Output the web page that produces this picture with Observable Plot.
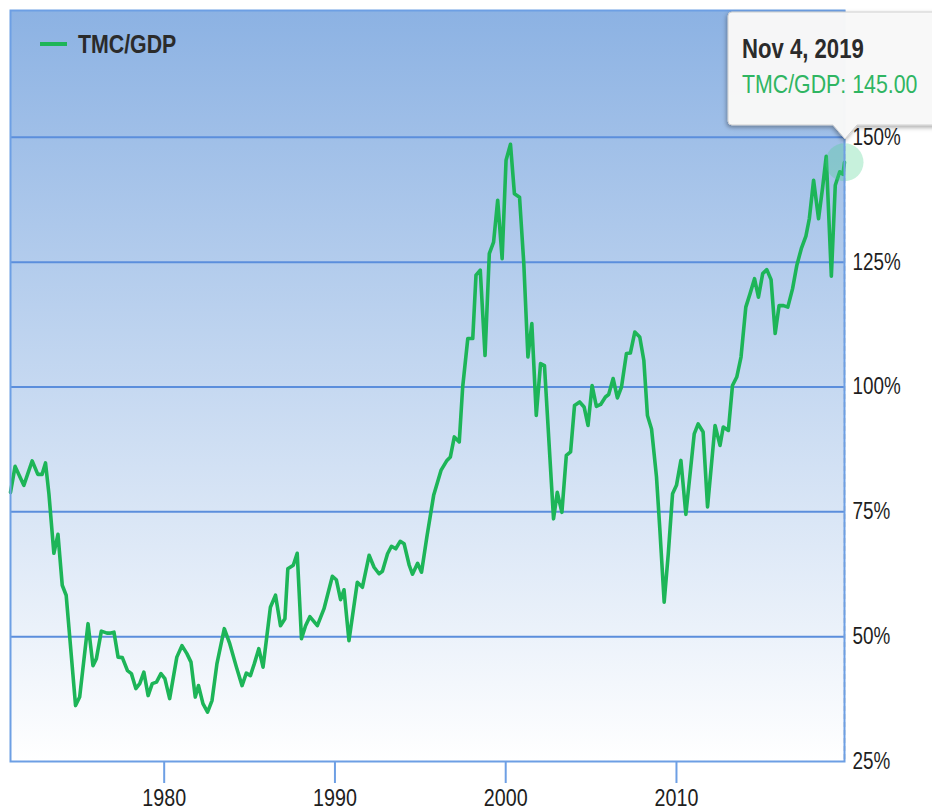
<!DOCTYPE html>
<html>
<head>
<meta charset="utf-8">
<script src="https://cdn.jsdelivr.net/npm/d3@7"></script>
<script src="https://cdn.jsdelivr.net/npm/@observablehq/plot@0.6"></script>
<style>
html, body { margin: 0; padding: 0; background: #ffffff; overflow: hidden; }
#wrap { position: relative; width: 932px; height: 810px; }
</style>
</head>
<body>
<div id="wrap"></div>
<script>
// ---- data ----
const seriesName = "TMC/GDP";
const years = [
  1971.0, 1971.27, 1971.78, 1972.27, 1972.6, 1972.85, 1973.05, 1973.25, 1973.54, 1973.78,
  1974.03, 1974.26, 1974.81, 1975.05, 1975.54, 1975.83, 1976.03, 1976.32, 1976.65, 1976.81,
  1977.06, 1977.30, 1977.55, 1977.85, 1978.08, 1978.34, 1978.57, 1978.81, 1979.06, 1979.30,
  1979.55, 1979.81, 1980.04, 1980.32, 1980.74, 1981.04, 1981.33, 1981.57, 1981.82, 1982.01,
  1982.27, 1982.54, 1982.80, 1983.09, 1983.52, 1983.84, 1984.23, 1984.56, 1984.81, 1985.05,
  1985.28, 1985.54, 1985.79, 1986.22, 1986.52, 1986.81, 1987.07, 1987.24, 1987.56, 1987.79,
  1988.04, 1988.28, 1988.53, 1988.97, 1989.36, 1989.85, 1990.08, 1990.33, 1990.53, 1990.82,
  1991.31, 1991.61, 1992.0, 1992.29, 1992.58, 1992.78, 1993.08, 1993.31, 1993.56, 1993.82,
  1994.05, 1994.35, 1994.54, 1994.84, 1995.07, 1995.38, 1995.78, 1996.21, 1996.56, 1996.76,
  1996.99, 1997.28, 1997.48, 1997.78, 1998.07, 1998.26, 1998.51, 1998.79, 1999.04, 1999.29,
  1999.53, 1999.79, 2000.02, 2000.28, 2000.51, 2000.81, 2001.06, 2001.30, 2001.53, 2001.79,
  2002.04, 2002.27, 2002.80, 2003.02, 2003.29, 2003.55, 2003.80, 2004.03, 2004.33, 2004.59,
  2004.82, 2005.06, 2005.31, 2005.56, 2005.84, 2006.03, 2006.29, 2006.54, 2006.78, 2007.07,
  2007.30, 2007.56, 2007.85, 2008.09, 2008.30, 2008.54, 2008.83, 2009.03, 2009.28, 2009.52,
  2009.77, 2010.0, 2010.26, 2010.55, 2011.04, 2011.27, 2011.56, 2011.82, 2012.26, 2012.55,
  2012.74, 2013.04, 2013.28, 2013.53, 2013.78, 2014.06, 2014.31, 2014.57, 2014.80, 2015.05,
  2015.29, 2015.54, 2015.78, 2016.01, 2016.27, 2016.52, 2016.80, 2017.05, 2017.31, 2017.58,
  2017.78, 2018.03, 2018.32, 2018.56, 2018.77, 2019.07, 2019.30, 2019.56, 2019.75, 2019.84
];
const values = [
  78.9, 84.1, 80.3, 85.2, 82.5, 82.5, 84.8, 78.6, 66.7, 70.5,
  60.3, 58.3, 36.2, 37.9, 52.6, 44.2, 45.6, 51.1, 50.7, 50.7,
  50.9, 45.9, 45.8, 43.2, 42.6, 39.6, 40.6, 42.9, 38.2, 40.6,
  40.9, 42.6, 41.6, 37.6, 45.9, 48.2, 46.6, 44.9, 37.9, 40.2,
  36.6, 34.9, 37.2, 44.6, 51.6, 48.6, 43.9, 40.2, 42.7, 42.2,
  44.6, 47.6, 43.9, 55.9, 58.3, 52.2, 53.6, 63.6, 64.3, 66.7,
  49.6, 52.2, 54.0, 52.2, 55.6, 62.1, 61.4, 57.4, 59.4, 49.2,
  60.9, 59.9, 66.3, 63.9, 62.6, 63.1, 66.6, 68.1, 67.6, 69.1,
  68.6, 64.3, 62.5, 64.7, 62.9, 69.9, 78.3, 83.3, 85.3, 86.0,
  90.0, 89.0, 100.0, 109.7, 109.7, 122.4, 123.4, 106.3, 126.7, 129.0,
  137.4, 125.7, 145.4, 148.6, 138.7, 138.0, 124.7, 106.0, 112.7, 94.3,
  104.7, 104.3, 73.6, 78.9, 74.9, 86.3, 87.0, 96.3, 97.0, 96.0,
  92.3, 100.3, 96.1, 96.5, 98.0, 98.5, 101.7, 97.8, 100.0, 106.7,
  106.8, 111.0, 110.0, 105.3, 94.3, 91.6, 82.0, 71.3, 56.9, 66.6,
  78.6, 80.3, 85.3, 74.5, 90.6, 92.6, 91.0, 76.0, 92.3, 88.3,
  92.0, 91.3, 100.3, 102.0, 106.0, 116.0, 118.7, 121.7, 118.0, 122.7,
  123.5, 121.5, 110.7, 116.3, 116.3, 116.0, 119.7, 124.4, 127.7, 130.2,
  133.7, 141.4, 133.7, 140.0, 146.2, 122.2, 140.4, 143.1, 142.6, 145.0
];
const xTicks = [1980, 1990, 2000, 2010];
const yTicks = [25, 50, 75, 100, 125, 150];
const gridValues = [50, 75, 100, 125, 150];
const tipDateLabel = "Nov 4, 2019";
const tipValue = 145.00;

// ---- build ----
const data = years.map((t, i) => ({t, v: values[i]}));
const last = data[data.length - 1];
const FONT = '"Liberation Sans", Arial, sans-serif';
const GREEN = "#1db558";
const BORDER = "#6d9fe4";

const plot = Plot.plot({
  width: 932,
  height: 810,
  marginLeft: 10,
  marginRight: 88,
  marginTop: 10,
  marginBottom: 49,
  style: {fontFamily: FONT, fontSize: "24px", color: "#1e1e1e", background: "transparent", overflow: "visible"},
  x: {domain: [1971.0, 2019.84], ticks: xTicks, tickFormat: d => String(d), tickSize: 22, tickPadding: 5, label: null},
  y: {domain: [25, 175.4], axis: "right", ticks: yTicks, tickFormat: d => d + "%", tickSize: 0, tickPadding: 8, label: null},
  marks: [
    Plot.frame({fill: "url(#bgGrad)", stroke: null}),
    Plot.ruleY(gridValues, {stroke: "#5b8edc", strokeWidth: 2}),
    Plot.ruleX([last], {x: "t", stroke: "#a8a8a8", strokeWidth: 1.5, strokeDasharray: "5,3"}),
    Plot.line(data, {x: "t", y: "v", stroke: GREEN, strokeWidth: 3.6, strokeLinejoin: "round", strokeLinecap: "round"}),
    Plot.dot([last], {x: "t", y: "v", r: 19, fill: "#46d08a", fillOpacity: 0.3, stroke: null}),
    Plot.frame({stroke: BORDER, strokeWidth: 2})
  ]
});

document.getElementById("wrap").appendChild(plot);

const svg = d3.select(plot);
const defs = svg.insert("defs", ":first-child");
const grad = defs.append("linearGradient").attr("id", "bgGrad")
  .attr("x1", 0).attr("y1", 0).attr("x2", 0).attr("y2", 1);
grad.append("stop").attr("offset", "0%").attr("stop-color", "#8cb2e3");
grad.append("stop").attr("offset", "100%").attr("stop-color", "#ffffff");
const shadow = defs.append("filter").attr("id", "tipShadow")
  .attr("x", "-10%").attr("y", "-10%").attr("width", "130%").attr("height", "140%");
shadow.append("feDropShadow").attr("dx", -1).attr("dy", 2).attr("stdDeviation", 2)
  .attr("flood-color", "#000").attr("flood-opacity", 0.35);

// x-axis tick lines in blue
svg.selectAll('g[aria-label^="x-axis"] path, g[aria-label^="x-axis"] line')
  .attr("stroke", BORDER).attr("stroke-width", 2);
// y-axis label size
svg.selectAll('g[aria-label^="y-axis"] text').style("font-size", "23px");

// legend
const lg = svg.append("g").attr("font-family", FONT).attr("text-anchor", "start");
lg.append("line").attr("x1", 40).attr("x2", 67).attr("y1", 44).attr("y2", 44)
  .attr("stroke", GREEN).attr("stroke-width", 4);
lg.append("text").attr("x", 78).attr("y", 53).attr("font-size", 26).attr("font-weight", "bold")
  .attr("fill", "#2b2b2b").text(seriesName);

// tooltip
const tip = svg.append("g").attr("font-family", FONT).attr("text-anchor", "start");
tip.append("path")
  .attr("d", "M732,12 H945 V125 H857 L845,139 L833,125 H732 Q728,125 728,121 V16 Q728,12 732,12 Z")
  .attr("fill", "rgba(249,249,249,0.97)").attr("stroke", "#cfcfcf").attr("stroke-width", 1)
  .attr("filter", "url(#tipShadow)");
tip.append("text").attr("x", 742).attr("y", 58).attr("font-size", 27).attr("font-weight", "bold")
  .attr("fill", "#2b2b2b").text(tipDateLabel);
tip.append("text").attr("x", 742).attr("y", 93).attr("font-size", 26)
  .attr("fill", "#2fb562").text(seriesName + ": " + tipValue.toFixed(2));

// condense all text to narrow proportions (like Arial Narrow)
svg.selectAll("text").each(function () {
  const L = this.getComputedTextLength();
  if (L > 0) {
    this.setAttribute("textLength", (L * 0.82).toFixed(1));
    this.setAttribute("lengthAdjust", "spacingAndGlyphs");
  }
});
</script>
</body>
</html>
